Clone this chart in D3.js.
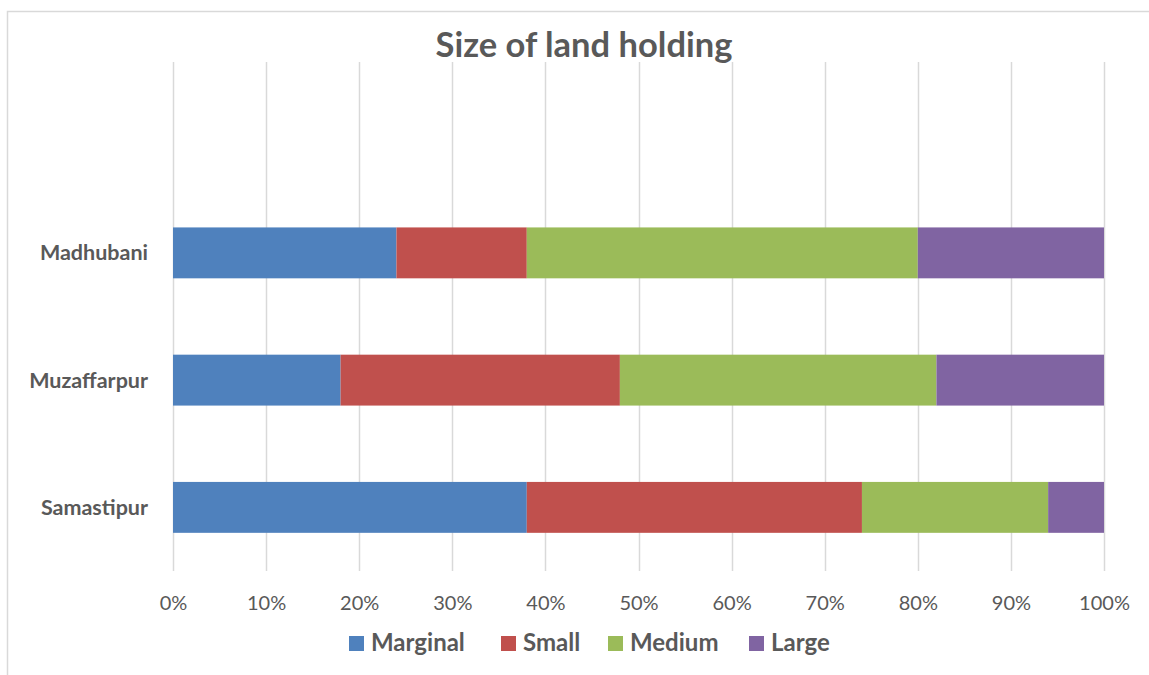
<!DOCTYPE html>
<html>
<head>
<meta charset="utf-8">
<script src="https://cdnjs.cloudflare.com/ajax/libs/d3/7.8.5/d3.min.js"></script>
<style>
  html, body { margin: 0; padding: 0; background: #fff; }
  svg { display: block; }
  text { font-family: Lato, "Open Sans", sans-serif; fill: #595959; }
</style>
</head>
<body>
<div id="chart"></div>
<script>
// Share of holdings by size class in each district (percent)
const districts = ["Madhubani", "Muzaffarpur", "Samastipur"];
const sizeClasses = ["Marginal", "Small", "Medium", "Large"];
const marginal = [24, 18, 38];
const small = [14, 30, 36];
const medium = [42, 34, 20];
const large = [20, 18, 6];
const xTicks = [0, 10, 20, 30, 40, 50, 60, 70, 80, 90, 100];
const palette = ["#4F81BD", "#C0504D", "#9BBB59", "#8064A2"];

const W = 1149, H = 675;
const plot = { left: 173, right: 1104, top: 62, bottom: 571 };

const rows = districts.map((d, i) => ({
  district: d,
  Marginal: marginal[i], Small: small[i], Medium: medium[i], Large: large[i]
}));
const stacked = d3.stack().keys(sizeClasses)
  .offset(d3.stackOffsetExpand)(rows);

const svg = d3.select("#chart").append("svg")
  .attr("width", W).attr("height", H);

// outer chart frame
svg.append("rect")
  .attr("x", 7.5).attr("y", 11.5)
  .attr("width", W + 10).attr("height", H + 10)
  .attr("fill", "none").attr("stroke", "#D9D9D9").attr("stroke-width", 1.5);

const x = d3.scaleLinear().domain([0, 1]).range([plot.left, plot.right]);
// one empty slot is left above the first district
const slot = (plot.bottom - plot.top) / 4;
const y = d3.scaleBand().domain(districts)
  .range([plot.top + slot, plot.bottom])
  .paddingInner(0.6).paddingOuter(0.3);

// vertical gridlines
svg.append("g")
  .selectAll("line").data(xTicks).join("line")
  .attr("x1", d => Math.round(x(d / 100)) + 0.5)
  .attr("x2", d => Math.round(x(d / 100)) + 0.5)
  .attr("y1", plot.top).attr("y2", plot.bottom)
  .attr("stroke", "#D9D9D9").attr("stroke-width", 1.5);

// stacked bars
svg.append("g")
  .selectAll("g").data(stacked).join("g")
  .attr("fill", (d, i) => palette[i])
  .selectAll("rect").data(d => d).join("rect")
  .attr("x", d => x(d[0]))
  .attr("width", d => x(d[1]) - x(d[0]))
  .attr("y", d => y(d.data.district))
  .attr("height", y.bandwidth());

// x axis tick labels
const xAxis = d3.axisBottom(x)
  .tickValues(xTicks.map(t => t / 100))
  .tickFormat(d3.format(".0%"))
  .tickSize(0).tickPadding(0);
const gx = svg.append("g").attr("transform", `translate(0,${plot.bottom})`).call(xAxis);
gx.select(".domain").remove();
gx.selectAll("text")
  .attr("y", 39).attr("dy", null)
  .style("font-size", "20px").style("fill", "#595959");

// category labels
const yAxis = d3.axisLeft(y).tickSize(0).tickPadding(0);
const gy = svg.append("g").attr("transform", `translate(148,0)`).call(yAxis);
gy.select(".domain").remove();
gy.selectAll("text")
  .attr("dy", "0.35em")
  .style("font-size", "21.5px").style("font-weight", "bold").style("fill", "#595959");

// title
svg.append("text")
  .attr("x", 584).attr("y", 57)
  .attr("text-anchor", "middle")
  .style("font-size", "34.5px").style("font-weight", "bold")
  .text("Size of land holding");

// legend
const legendX = [349, 501, 608, 749];
const legend = svg.append("g")
  .selectAll("g").data(sizeClasses).join("g")
  .attr("transform", (d, i) => `translate(${legendX[i]},636)`);
legend.append("rect")
  .attr("width", 15).attr("height", 15)
  .attr("fill", (d, i) => palette[i]);
legend.append("text")
  .attr("x", 22).attr("y", 15)
  .style("font-size", "24px").style("font-weight", "bold")
  .text(d => d);
</script>
</body>
</html>
